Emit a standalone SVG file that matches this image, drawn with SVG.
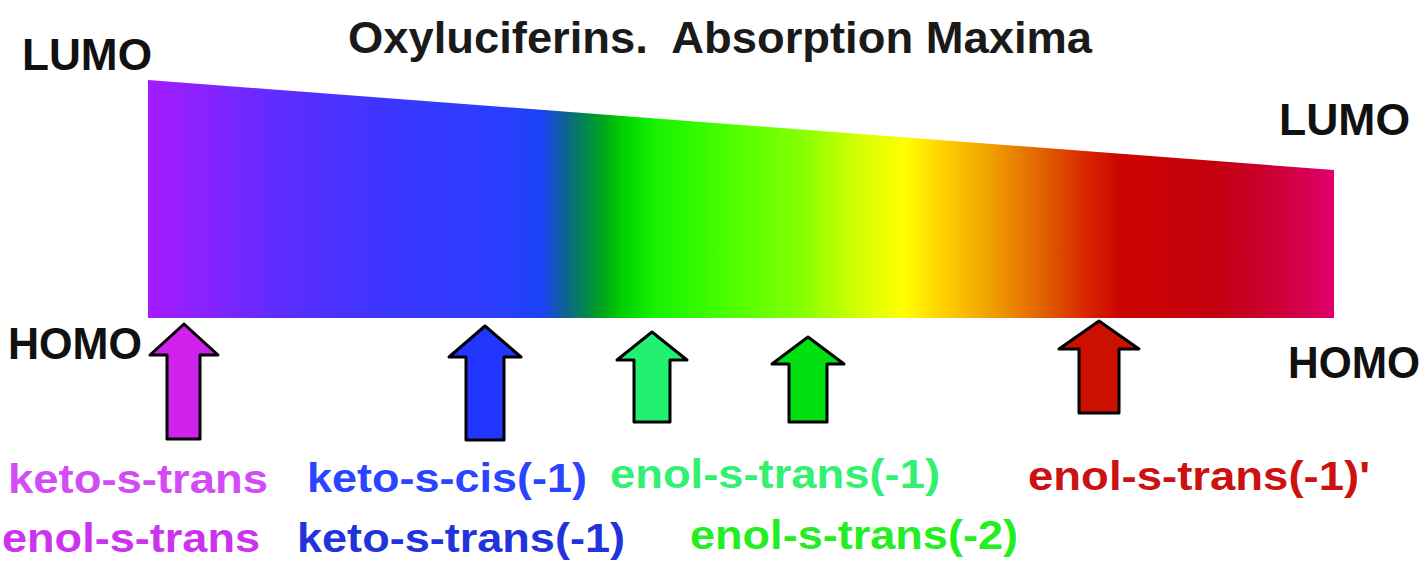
<svg xmlns="http://www.w3.org/2000/svg" width="1427" height="568" viewBox="0 0 1427 568">
<style>
.lvl{font-family:"Liberation Sans",Arial,sans-serif;font-weight:bold;font-size:45px;fill:#111}
.ttl{font-family:"Liberation Sans",Arial,sans-serif;font-weight:bold;font-size:44px;fill:#1a1a1a}
.lbl{font-family:"Liberation Sans",Arial,sans-serif;font-weight:bold;font-size:41px}
.arr{stroke:#000;stroke-width:3;stroke-linejoin:round}
</style>
<defs>
<linearGradient id="spec" gradientUnits="userSpaceOnUse" x1="148" y1="0" x2="1334" y2="0">
<stop offset="0" stop-color="#a41cff"/>
<stop offset="0.045" stop-color="#8a22ff"/>
<stop offset="0.11" stop-color="#5e2cff"/>
<stop offset="0.2" stop-color="#3c36ff"/>
<stop offset="0.3" stop-color="#2a3eff"/>
<stop offset="0.333" stop-color="#1a42f4"/>
<stop offset="0.352" stop-color="#0e6390"/>
<stop offset="0.37" stop-color="#008a4a"/>
<stop offset="0.383" stop-color="#00a41c"/>
<stop offset="0.4" stop-color="#00d000"/>
<stop offset="0.425" stop-color="#14f000"/>
<stop offset="0.482" stop-color="#44ff00"/>
<stop offset="0.55" stop-color="#84ff00"/>
<stop offset="0.592" stop-color="#c8ff00"/>
<stop offset="0.638" stop-color="#ffff00"/>
<stop offset="0.668" stop-color="#ffd400"/>
<stop offset="0.71" stop-color="#f0a000"/>
<stop offset="0.755" stop-color="#e06000"/>
<stop offset="0.79" stop-color="#d82800"/>
<stop offset="0.82" stop-color="#cc0400"/>
<stop offset="0.9" stop-color="#c4000e"/>
<stop offset="0.95" stop-color="#cc0034"/>
<stop offset="1" stop-color="#e0006c"/>
</linearGradient>
</defs>
<rect width="1427" height="568" fill="#fff"/>

<g id="spectrum">
<polygon points="148,80 1334,170 1334,318 148,318" fill="url(#spec)"/>
</g>

<g id="title"><text class="ttl" x="720" y="53" text-anchor="middle" textLength="744" lengthAdjust="spacingAndGlyphs" xml:space="preserve">Oxyluciferins.  Absorption Maxima</text></g>
<g id="lumo-left"><text class="lvl" x="22" y="70" textLength="130" lengthAdjust="spacingAndGlyphs">LUMO</text></g>
<g id="lumo-right"><text class="lvl" x="1279" y="135" textLength="131" lengthAdjust="spacingAndGlyphs">LUMO</text></g>
<g id="homo-left"><text class="lvl" x="8" y="359" textLength="134" lengthAdjust="spacingAndGlyphs">HOMO</text></g>
<g id="homo-right"><text class="lvl" x="1288" y="378" textLength="132" lengthAdjust="spacingAndGlyphs">HOMO</text></g>

<g id="connectors">
<path class="arr" fill="#cf22ec" d="M184,324 L218,355 L200,355 L200,439 L167,439 L167,355 L150,355 Z"/>
<path class="arr" fill="#2236ff" d="M485,326 L521,357 L504,357 L504,440 L466,440 L466,357 L449,357 Z"/>
<path class="arr" fill="#22f070" d="M652,332 L687,360 L670,360 L670,422 L634,422 L634,360 L617,360 Z"/>
<path class="arr" fill="#00e010" d="M808,337 L844,364 L827,364 L827,422 L789,422 L789,364 L772,364 Z"/>
<path class="arr" fill="#cc1100" d="M1099,321 L1139,349 L1119,349 L1119,413 L1079,413 L1079,349 L1059,349 Z"/>
</g>

<g id="label-keto-s-trans"><text class="lbl" x="8" y="493" fill="#d24cf5" textLength="260" lengthAdjust="spacingAndGlyphs">keto-s-trans</text></g>
<g id="label-enol-s-trans"><text class="lbl" x="2" y="552" fill="#cc33ee" textLength="258" lengthAdjust="spacingAndGlyphs">enol-s-trans</text></g>
<g id="label-keto-s-cis-1"><text class="lbl" x="307" y="492" fill="#2a44ff" textLength="280" lengthAdjust="spacingAndGlyphs">keto-s-cis(-1)</text></g>
<g id="label-keto-s-trans-1"><text class="lbl" x="297" y="552" fill="#2233dd" textLength="328" lengthAdjust="spacingAndGlyphs">keto-s-trans(-1)</text></g>
<g id="label-enol-s-trans-1"><text class="lbl" x="610" y="488" fill="#33f070" textLength="330" lengthAdjust="spacingAndGlyphs">enol-s-trans(-1)</text></g>
<g id="label-enol-s-trans-2"><text class="lbl" x="690" y="549" fill="#22ee22" textLength="328" lengthAdjust="spacingAndGlyphs">enol-s-trans(-2)</text></g>
<g id="label-enol-s-trans-1-prime"><text class="lbl" x="1028" y="490" fill="#cc1111" textLength="342" lengthAdjust="spacingAndGlyphs">enol-s-trans(-1)'</text></g>
</svg>
